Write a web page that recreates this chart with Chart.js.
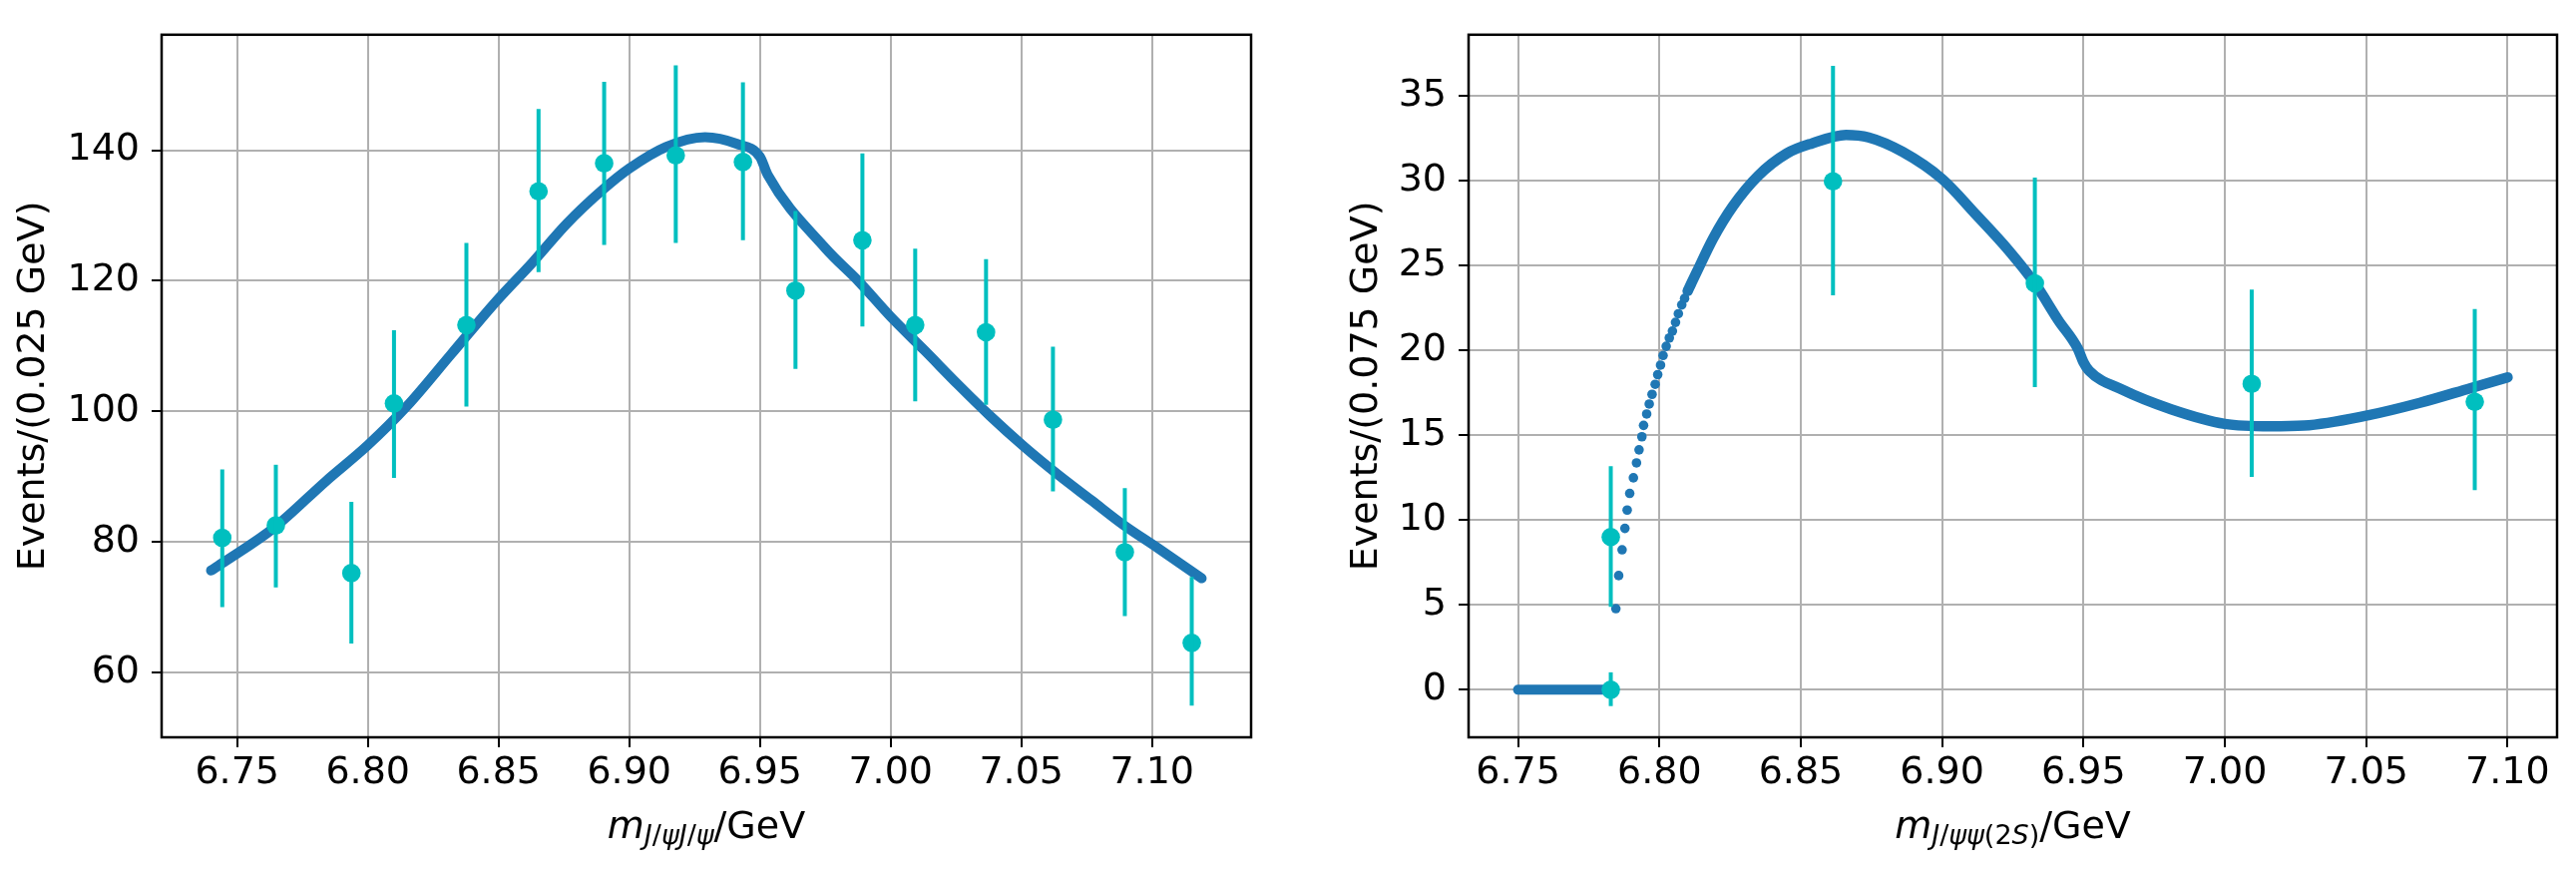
<!DOCTYPE html>
<html>
<head>
<meta charset="utf-8">
<script src="https://cdn.jsdelivr.net/npm/chart.js@4.4.1/dist/chart.umd.min.js"></script>
<style>
  html, body { margin: 0; padding: 0; background: #fff; }
  #wrap { position: relative; width: 2582px; height: 875px; }
  .panel { position: absolute; top: 0; }
</style>
</head>
<body>
<div id="wrap">
  <div class="panel" style="left:0"><canvas id="left" width="1290" height="875"></canvas></div>
  <div class="panel" style="left:1290px"><canvas id="right" width="1292" height="875"></canvas></div>
</div>
<script>
// ---- left panel: m(J/psi J/psi) ----
var leftCurveX = [6.740, 6.745, 6.764, 6.784, 6.800, 6.815, 6.832, 6.849, 6.863, 6.876, 6.890, 6.900, 6.914, 6.929, 6.941, 6.950, 6.953, 6.975, 6.988, 7.000, 7.013, 7.026, 7.038, 7.051, 7.064, 7.077, 7.089, 7.102, 7.119];
var leftCurveY = [75.6, 76.9, 82.1, 89.3, 94.8, 100.8, 108.8, 116.8, 122.8, 128.7, 134.0, 137.2, 140.5, 142.0, 141.0, 139.0, 136.2, 125.0, 119.8, 114.5, 109.3, 104.0, 99.3, 94.6, 90.3, 86.3, 82.6, 79.1, 74.4];

var leftPtX = [6.7443, 6.7648, 6.7937, 6.8100, 6.8377, 6.8653, 6.8904, 6.9178, 6.9435, 6.9636, 6.9892, 7.0094, 7.0365, 7.0621, 7.0896, 7.1152];
var leftPtY = [80.6, 82.5, 75.2, 101.2, 113.2, 133.7, 138.0, 139.2, 138.2, 118.5, 126.2, 113.2, 112.1, 98.7, 78.4, 64.5];
var leftErrLo = [70.0, 73.0, 64.4, 89.8, 100.7, 121.3, 125.5, 125.8, 126.2, 106.5, 113.0, 101.5, 101.0, 87.7, 68.6, 54.9];
var leftErrHi = [91.1, 91.8, 86.1, 112.4, 125.8, 146.3, 150.5, 153.0, 150.4, 130.7, 139.5, 124.9, 123.3, 109.9, 88.2, 74.6];

// ---- right panel: m(J/psi psi(2S)) ----
var rightFlatX = [6.750, 6.783];
var rightFlatY = [0, 0];
var rightDotX = [6.7846, 6.7856, 6.7868, 6.7878, 6.7886, 6.7895, 6.7908, 6.7919, 6.7928, 6.7938, 6.7944, 6.7955, 6.7964, 6.7974, 6.7985, 6.7994, 6.8004, 6.8013, 6.8024, 6.8035, 6.8046, 6.8057, 6.8067, 6.8079, 6.8089, 6.8100, 6.8111];
var rightDotY = [4.78, 6.73, 8.25, 9.51, 10.59, 11.57, 12.49, 13.37, 14.14, 14.91, 15.58, 16.25, 16.84, 17.41, 18.0, 18.57, 19.13, 19.7, 20.24, 20.73, 21.14, 21.65, 22.16, 22.68, 23.06, 23.5, 23.84];
var rightCurveX = [6.8100, 6.8133, 6.819, 6.826, 6.835, 6.845, 6.854, 6.866, 6.874, 6.886, 6.900, 6.912, 6.9235, 6.933, 6.941, 6.948, 6.950, 6.952, 6.9635, 6.981, 7.000, 7.016, 7.028, 7.050, 7.069, 7.087, 7.100];
var rightCurveY = [23.5, 24.65, 26.6, 28.5, 30.3, 31.6, 32.2, 32.7, 32.55, 31.7, 30.1, 28.0, 25.9, 23.9, 21.8, 20.1, 19.3, 18.8, 17.7, 16.53, 15.67, 15.53, 15.57, 16.15, 16.91, 17.78, 18.41];

var rightPtX = [6.7828, 6.7828, 6.8614, 6.9328, 7.0095, 7.0884];
var rightPtY = [9.0, 0.0, 29.96, 23.95, 18.03, 16.97];
var rightErrLo = [4.89, -0.96, 23.24, 17.84, 12.54, 11.76];
var rightErrHi = [13.18, 1.03, 36.77, 30.18, 23.58, 22.43];

// ---- ticks ----
var xTicks = [6.75, 6.80, 6.85, 6.90, 6.95, 7.00, 7.05, 7.10];
var leftYTicks = [60, 80, 100, 120, 140];
var rightYTicks = [0, 5, 10, 15, 20, 25, 30, 35];

var CURVE = '#1f77b4';
var POINT = '#00bfbf';
var FONT = "'DejaVu Sans'";

Chart.defaults.font.family = FONT;
Chart.defaults.color = '#000';

function xy(xs, ys) {
    return xs.map(function (x, i) { return {x: x, y: ys[i]}; });
}

var errorBars = {
    id: 'errorBars',
    afterDatasetsDraw: function (chart, args, opts) {
        var ctx = chart.ctx, sx = chart.scales.x, sy = chart.scales.y;
        ctx.save();
        ctx.strokeStyle = POINT;
        ctx.lineWidth = 4;
        opts.x.forEach(function (x, i) {
            var px = sx.getPixelForValue(x);
            ctx.beginPath();
            ctx.moveTo(px, sy.getPixelForValue(opts.low[i]));
            ctx.lineTo(px, sy.getPixelForValue(opts.high[i]));
            ctx.stroke();
        });
        ctx.restore();
    }
};

var frame = {
    id: 'frame',
    afterDraw: function (chart) {
        var a = chart.chartArea, ctx = chart.ctx;
        ctx.save();
        ctx.strokeStyle = '#000';
        ctx.lineWidth = 2.5;
        ctx.strokeRect(a.left, a.top, a.right - a.left, a.bottom - a.top);
        ctx.restore();
    }
};

// x label with math-style subscript
var xLabel = {
    id: 'xLabel',
    afterDraw: function (chart, args, opts) {
        var ctx = chart.ctx, a = chart.chartArea;
        var total = 0;
        ctx.save();
        ctx.fillStyle = '#000';
        ctx.textBaseline = 'alphabetic';
        var parts = opts.parts.map(function (p) {
            var f = (p[2] ? 'italic ' : '') + p[1] + 'px ' + FONT;
            ctx.font = f;
            var w = ctx.measureText(p[0]).width;
            total += w;
            return {t: p[0], f: f, w: w, dy: p[3]};
        });
        var x = (a.left + a.right) / 2 - total / 2;
        parts.forEach(function (p) {
            ctx.font = p.f;
            ctx.fillText(p.t, x, opts.baseline + p.dy);
            x += p.w;
        });
        ctx.restore();
    }
};

function makeChart(id, o) {
    return new Chart(document.getElementById(id), {
        type: 'scatter',
        data: {
            datasets: o.datasets
        },
        options: {
            responsive: false,
            animation: false,
            devicePixelRatio: 1,
            events: [],
            layout: {padding: {left: o.padLeft, top: 20, right: o.padRight, bottom: 0}},
            plugins: {
                legend: {display: false},
                tooltip: {enabled: false},
                errorBars: {x: o.ptX, low: o.errLo, high: o.errHi},
                xLabel: {parts: o.xParts, baseline: 840}
            },
            scales: {
                x: {
                    type: 'linear',
                    min: o.xMin, max: o.xMax,
                    afterBuildTicks: function (s) { s.ticks = xTicks.map(function (v) { return {value: v}; }); },
                    afterFit: function (s) { s.height = 136; },
                    ticks: {
                        font: {size: 38}, padding: 3, maxRotation: 0, autoSkip: false,
                        callback: function (v) { return v.toFixed(2); }
                    },
                    grid: {color: '#b0b0b0', lineWidth: 2, tickColor: '#000', tickWidth: 2, tickLength: 10},
                    border: {display: false}
                },
                y: {
                    type: 'linear',
                    min: o.yMin, max: o.yMax,
                    afterBuildTicks: function (s) { s.ticks = o.yTicks.map(function (v) { return {value: v}; }); },
                    afterFit: function (s) { s.width = o.yWidth; },
                    ticks: {font: {size: 38}, padding: 12, autoSkip: false},
                    grid: {color: '#b0b0b0', lineWidth: 2, tickColor: '#000', tickWidth: 2, tickLength: 10},
                    border: {display: false},
                    title: {display: true, text: o.yTitle, font: {size: 38}, padding: {top: o.titlePad, bottom: 0}}
                }
            }
        },
        plugins: [errorBars, frame, xLabel]
    });
}

function curveSet(xs, ys, w) {
    return {
        data: xy(xs, ys), showLine: true, borderColor: CURVE, borderWidth: w,
        borderCapStyle: 'round', borderJoinStyle: 'round',
        cubicInterpolationMode: 'monotone', pointRadius: 0, order: 2
    };
}

function pointSet(xs, ys) {
    return {data: xy(xs, ys), pointRadius: 9.3, backgroundColor: POINT, borderWidth: 0, order: 0};
}

makeChart('left', {
    datasets: [pointSet(leftPtX, leftPtY), curveSet(leftCurveX, leftCurveY, 10)],
    ptX: leftPtX, errLo: leftErrLo, errHi: leftErrHi,
    xMin: 6.7211, xMax: 7.1379, yMin: 50.03, yMax: 157.7,
    yTicks: leftYTicks, yWidth: 162, padLeft: 0, padRight: 36, titlePad: 11,
    yTitle: 'Events/(0.025 GeV)',
    xParts: [['m', 38, true, 0], ['J', 27, true, 6], ['/', 27, false, 6], ['ψ', 27, true, 6],
             ['J', 27, true, 6], ['/', 27, false, 6], ['ψ', 27, true, 6], ['/GeV', 38, false, 0]]
});

makeChart('right', {
    datasets: [
        pointSet(rightPtX, rightPtY),
        curveSet(rightFlatX, rightFlatY, 10),
        {data: xy(rightDotX, rightDotY), pointRadius: 4.8, backgroundColor: CURVE, borderWidth: 0, order: 2},
        curveSet(rightCurveX, rightCurveY, 10.5)
    ],
    ptX: rightPtX, errLo: rightErrLo, errHi: rightErrHi,
    xMin: 6.7325, xMax: 7.1175, yMin: -2.8, yMax: 38.6,
    yTicks: rightYTicks, yWidth: 182, padLeft: 0, padRight: 19, titlePad: 57,
    yTitle: 'Events/(0.075 GeV)',
    xParts: [['m', 38, true, 0], ['J', 27, true, 6], ['/', 27, false, 6], ['ψ', 27, true, 6],
             ['ψ', 27, true, 6], ['(', 27, false, 6], ['2', 27, false, 6], ['S', 27, true, 6],
             [')', 27, false, 6], ['/GeV', 38, false, 0]]
});
</script>
</body>
</html>
